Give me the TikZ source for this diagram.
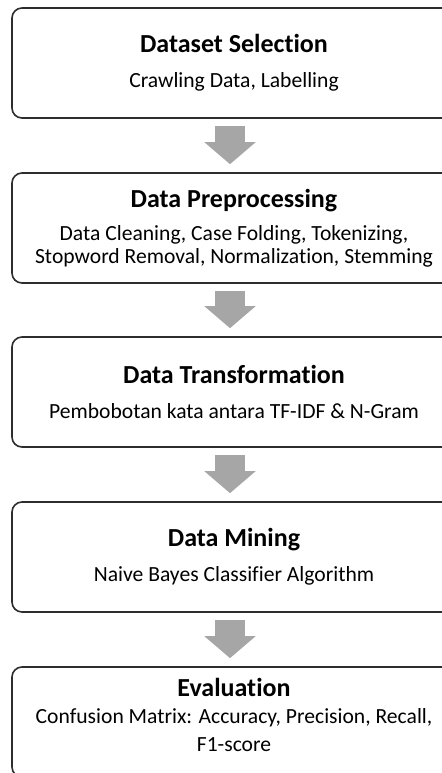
\documentclass[tikz,border=0pt]{standalone}
\usepackage{fontspec}
\setmainfont{Carlito}[Ligatures=NoCommon]
\usetikzlibrary{arrows.meta,positioning}
\definecolor{flowgray}{RGB}{166,166,166}
\definecolor{edgegray}{RGB}{45,45,45}
\newcommand\stagetitle[1]{{\fontsize{13}{15}\selectfont\bfseries #1}}
\begin{document}
\begin{tikzpicture}[x=0.5pt,y=-0.5pt,
    stage/.style={draw=edgegray, line width=0.8pt, rounded corners=5pt,
      minimum width=222pt, minimum height=55pt, align=center, inner sep=2pt,
      font=\fontsize{10.8}{11.5}\selectfont},
    flow/.style={draw=flowgray, line width=15pt,
      -{Triangle[width=25pt,length=11pt]}, shorten <=3.5pt, shorten >=4pt}
  ]
  \useasboundingbox (0,0) rectangle (441,773);
  % the five stages, top to bottom
  \node[stage] (select) at (234,63)
    {\stagetitle{Dataset Selection}\\[6pt]Crawling Data, Labelling};
  \node[stage] (prep) at (234,228)
    {\stagetitle{Data Preprocessing}\\[5pt]Data Cleaning, Case Folding, Tokenizing,\\Stopword Removal, Normalization, Stemming};
  \node[stage] (trans) at (234,392)
    {\stagetitle{Data Transformation}\\[6pt]Pembobotan kata antara TF-IDF \& N-Gram};
  \node[stage] (mine) at (234,557)
    {\stagetitle{Data Mining}\\[6pt]Naive Bayes Classifier Algorithm};
  \node[stage, text depth=7pt] (eval) at (234,722)
    {\stagetitle{Evaluation}\\[2pt]Confusion Matrix: Accuracy, Precision, Recall,\\[2.5pt]F1-score};
  % block arrows between stages
  \foreach \a/\b in {select/prep, prep/trans, trans/mine, mine/eval}
    \draw[flow] ([xshift=-2pt]\a.south) -- ([xshift=-2pt]\b.north);
\end{tikzpicture}
\end{document}
